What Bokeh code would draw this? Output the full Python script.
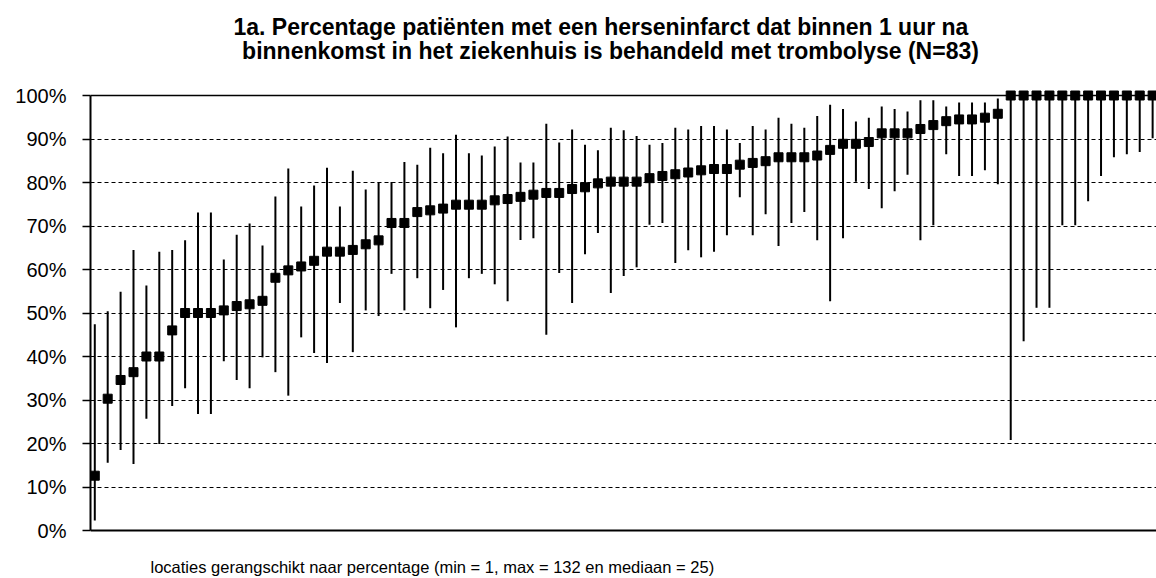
from bokeh.plotting import figure
from bokeh.models import ColumnDataSource, Range1d, FixedTicker, PrintfTickFormatter, Span, Label
from bokeh.embed import file_html
from bokeh.resources import INLINE

# ---- data (percentages) ----
values = [12.6, 30.3, 34.6, 36.4, 40.0, 40.0, 46.0, 50.0, 50.0, 50.0,
          50.6, 51.6, 52.0, 52.8, 58.1, 59.8, 60.7, 62.0, 64.1, 64.1,
          64.5, 65.8, 66.7, 70.7, 70.7, 73.2, 73.6, 74.0, 74.9, 74.9,
          74.9, 75.9, 76.2, 76.7, 77.2, 77.6, 77.6, 78.5, 78.9, 79.8,
          80.2, 80.2, 80.2, 81.0, 81.5, 81.9, 82.3, 82.8, 83.1, 83.1,
          84.1, 84.5, 84.9, 85.8, 85.8, 85.8, 86.2, 87.5, 88.9, 88.9,
          89.3, 91.3, 91.3, 91.3, 92.3, 93.2, 94.1, 94.5, 94.5, 94.9,
          95.8, 100, 100, 100, 100, 100, 100, 100, 100, 100, 100, 100, 100]
upper = [47.4, 50.4, 54.9, 64.5, 56.3, 64.1, 64.5, 66.7, 73.1, 73.1,
         62.3, 68.0, 70.6, 65.5, 76.8, 83.2, 74.5, 79.3, 83.4, 74.5,
         82.7, 78.4, 80.1, 80.1, 84.7, 84.1, 88.0, 86.7, 91.0, 86.7,
         86.2, 88.3, 90.6, 84.6, 84.6, 93.5, 89.2, 92.2, 88.7, 87.4,
         92.6, 92.0, 90.7, 88.7, 89.1, 92.6, 92.2, 93.0, 93.0, 92.2,
         89.1, 93.0, 92.2, 94.9, 93.5, 92.6, 95.3, 97.9, 96.9, 94.0,
         94.9, 97.5, 96.9, 96.3, 98.9, 98.9, 97.5, 98.4, 98.4, 98.4,
         99.3, 100, 100, 100, 100, 100, 100, 100, 100, 100, 100, 100, 100]
lower = [2.3, 15.6, 18.5, 15.3, 25.7, 19.9, 28.6, 32.7, 26.8, 26.8,
         38.9, 34.6, 32.7, 39.8, 36.4, 31.0, 44.4, 40.8, 38.5, 52.3,
         41.0, 50.6, 49.3, 59.0, 50.6, 58.0, 51.1, 55.3, 46.7, 58.0,
         59.0, 56.6, 52.7, 66.8, 67.2, 45.0, 59.2, 52.3, 63.5, 68.4,
         54.6, 58.5, 60.5, 70.3, 70.7, 61.5, 64.4, 62.8, 64.1, 67.9,
         76.6, 67.9, 72.7, 65.4, 70.7, 73.2, 66.7, 52.7, 67.2, 80.2,
         78.5, 74.1, 78.0, 81.8, 66.7, 70.2, 86.5, 81.5, 81.5, 82.8,
         79.6, 20.8, 43.5, 51.2, 51.2, 70.2, 70.2, 75.7, 81.5, 85.8,
         86.5, 87.0, 90.2]
ranks = list(range(1, len(values) + 1))
y_ticks = [0, 10, 20, 30, 40, 50, 60, 70, 80, 90, 100]

title_line1 = "1a. Percentage  patiënten  met een herseninfarct  dat binnen 1 uur na"
title_line2 = "binnenkomst in het ziekenhuis is behandeld met trombolyse (N=83)"
x_label = "locaties gerangschikt naar percentage (min = 1, max = 132 en mediaan = 25)"

src = ColumnDataSource(dict(x=ranks, y=values, lo=lower, hi=upper))

FONT = "Liberation Sans"

# layout: the frame covers the whole figure right of the y axis, so that the
# titles and the x label can be drawn inside it; 0% at y=530 px, 100% at y=95 px
W, H = 1156, 576
LEFT = 90
PX_PER_Y = (530 - 95) / 100.0
Y0 = -(H - 530) / PX_PER_Y
Y1 = 100 + 95 / PX_PER_Y
X0, X1 = 0.667, 83.30
PX_PER_X = (W - LEFT) / (X1 - X0)

def dx(px):
    return X0 + (px - LEFT) / PX_PER_X

def dy(py):
    return (530 - py) / PX_PER_Y

p = figure(width=W, height=H, output_backend="svg", toolbar_location=None,
           x_range=Range1d(X0, X1), y_range=Range1d(Y0, Y1), x_axis_location=None,
           min_border_left=LEFT, min_border_right=0, min_border_top=0, min_border_bottom=0)
p.outline_line_color = None
p.background_fill_color = "white"
p.border_fill_color = "white"

# grid
p.xgrid.grid_line_color = None
p.ygrid.ticker = FixedTicker(ticks=y_ticks)
p.ygrid.grid_line_color = "black"
p.ygrid.grid_line_dash = "4 3"
p.ygrid.grid_line_width = 1

# y axis
p.yaxis.ticker = FixedTicker(ticks=y_ticks)
p.yaxis.formatter = PrintfTickFormatter(format="%d%%")
p.yaxis.bounds = (0, 100)
p.yaxis.axis_line_width = 2
p.yaxis.axis_line_color = "black"
p.yaxis.major_tick_out = 8
p.yaxis.major_tick_in = 0
p.yaxis.major_tick_line_color = "black"
p.yaxis.major_tick_line_width = 1.5
p.yaxis.minor_tick_line_color = None
p.yaxis.major_label_text_font = FONT
p.yaxis.major_label_text_font_size = "20px"
p.yaxis.major_label_text_color = "black"
p.yaxis.major_label_standoff = 16

# bottom axis line (0%) and top border line (100%)
p.add_layout(Span(location=0, dimension="width", line_color="black", line_width=2))
p.add_layout(Span(location=100, dimension="width", line_color="black", line_width=1.5))

# error bars and markers
p.segment(x0="x", y0="lo", x1="x", y1="hi", source=src, line_color="black", line_width=2)
p.scatter(x="x", y="y", source=src, marker="square", size=9,
          fill_color="black", line_color="black")

# texts
p.add_layout(Label(x=dx(610), y=dy(26), text=title_line1, text_align="center",
                   text_baseline="middle", text_font=FONT, text_font_size="23px",
                   text_font_style="bold", text_color="black"))
p.add_layout(Label(x=dx(610), y=dy(50), text=title_line2, text_align="center",
                   text_baseline="middle", text_font=FONT, text_font_size="23px",
                   text_font_style="bold", text_color="black"))
p.add_layout(Label(x=dx(150), y=dy(566), text=x_label, text_align="left",
                   text_baseline="middle", text_font=FONT, text_font_size="16.5px",
                   text_color="black"))

open("out.html", "w").write(file_html(p, INLINE))
